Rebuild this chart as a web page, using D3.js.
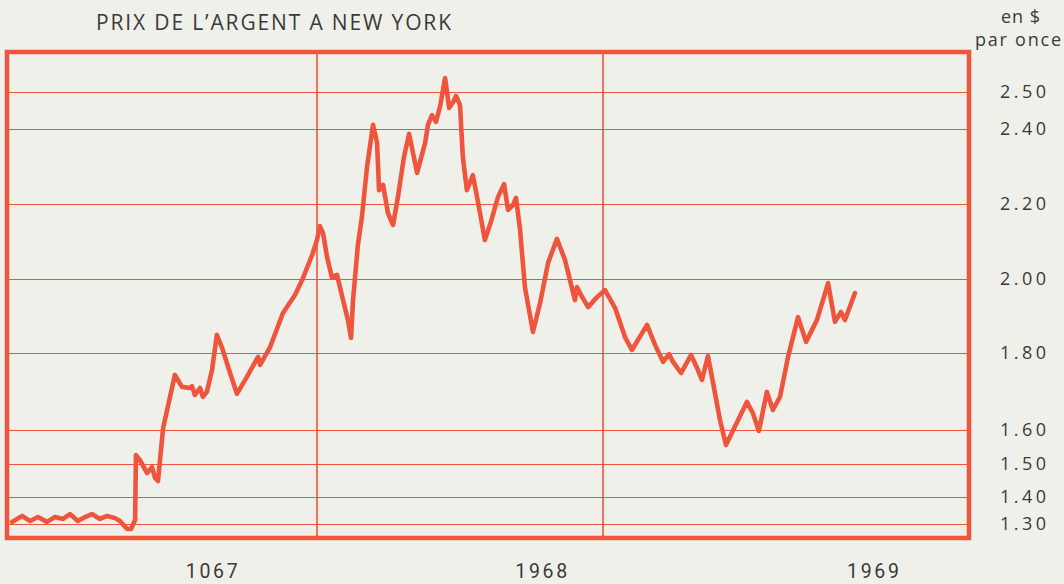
<!DOCTYPE html>
<html>
<head>
<meta charset="utf-8">
<script src="https://cdn.jsdelivr.net/npm/d3@7"></script>
<style>
  body { margin: 0; background: #f0f0eb; }
  svg { display: block; }
</style>
</head>
<body>
<div id="chart"></div>
<script>
// tick values on the right (the scale is hand drawn, not strictly linear)
const yTicks = [2.50, 2.40, 2.20, 2.00, 1.80, 1.60, 1.50, 1.40, 1.30];
const yearLines = [1968, 1969];
const yearLabels = ["1067", "1968", "1969"];
const yearLabelPos = [1967.632, 1968.784, 1969.944];

// date as fractional year, price in $ per ounce
const dates = [
  1966.934, 1966.969, 1966.997, 1967.024, 1967.056, 1967.084, 1967.112, 1967.136, 1967.164, 1967.189,
  1967.213, 1967.241, 1967.266, 1967.294, 1967.311, 1967.336, 1967.350, 1967.364, 1967.367, 1967.381,
  1967.406, 1967.423, 1967.434, 1967.444, 1967.462, 1967.476, 1967.503, 1967.528, 1967.556, 1967.563,
  1967.573, 1967.591, 1967.601, 1967.615, 1967.633, 1967.650, 1967.668, 1967.696, 1967.720, 1967.755,
  1967.794, 1967.801, 1967.836, 1967.881, 1967.923, 1967.948, 1967.983, 1968.000, 1968.010, 1968.021,
  1968.035, 1968.052, 1968.070, 1968.091, 1968.108, 1968.119, 1968.126, 1968.143, 1968.157, 1968.175,
  1968.196, 1968.210, 1968.217, 1968.231, 1968.248, 1968.266, 1968.283, 1968.304, 1968.322, 1968.350,
  1968.378, 1968.388, 1968.402, 1968.416, 1968.430, 1968.448, 1968.462, 1968.476, 1968.486, 1968.500,
  1968.510, 1968.524, 1968.545, 1968.563, 1968.587, 1968.608, 1968.633, 1968.654, 1968.668, 1968.685,
  1968.696, 1968.710, 1968.727, 1968.755, 1968.780, 1968.808, 1968.839, 1968.867, 1968.902, 1968.909,
  1968.923, 1968.948, 1968.979, 1969.007, 1969.042, 1969.077, 1969.101, 1969.154, 1969.182, 1969.210,
  1969.231, 1969.245, 1969.273, 1969.308, 1969.329, 1969.346, 1969.367, 1969.385, 1969.409, 1969.430,
  1969.469, 1969.503, 1969.524, 1969.545, 1969.573, 1969.594, 1969.619, 1969.647, 1969.682, 1969.710,
  1969.748, 1969.787, 1969.811, 1969.832, 1969.846, 1969.881
];
const prices = [
  1.306, 1.328, 1.309, 1.324, 1.306, 1.324, 1.317, 1.335, 1.309, 1.324,
  1.335, 1.317, 1.328, 1.320, 1.309, 1.280, 1.280, 1.313, 1.525, 1.510,
  1.471, 1.489, 1.456, 1.447, 1.605, 1.652, 1.743, 1.712, 1.709, 1.714,
  1.691, 1.709, 1.686, 1.699, 1.756, 1.849, 1.814, 1.748, 1.694, 1.738,
  1.790, 1.769, 1.816, 1.908, 1.957, 1.997, 2.064, 2.104, 2.141, 2.123,
  2.059, 2.005, 2.011, 1.943, 1.889, 1.841, 1.943, 2.091, 2.165, 2.299,
  2.411, 2.363, 2.237, 2.251, 2.176, 2.144, 2.219, 2.325, 2.387, 2.283,
  2.363, 2.411, 2.437, 2.419, 2.459, 2.536, 2.456, 2.472, 2.488, 2.464,
  2.325, 2.237, 2.277, 2.205, 2.104, 2.152, 2.219, 2.253, 2.184, 2.197,
  2.216, 2.131, 1.978, 1.857, 1.935, 2.043, 2.107, 2.051, 1.943, 1.978,
  1.957, 1.924, 1.951, 1.970, 1.922, 1.843, 1.808, 1.876, 1.822, 1.777,
  1.797, 1.777, 1.748, 1.795, 1.761, 1.730, 1.792, 1.722, 1.626, 1.555,
  1.621, 1.673, 1.644, 1.597, 1.699, 1.652, 1.686, 1.790, 1.897, 1.830,
  1.889, 1.989, 1.884, 1.911, 1.889, 1.962
];

const red = "#ef553d";
const ink = "#3a3a38";
const width = 1064, height = 584;
const frame = { left: 7, right: 969, top: 52, bottom: 538 };

const svg = d3.select("#chart").append("svg")
  .attr("width", width)
  .attr("height", height);

svg.append("rect")
  .attr("width", width).attr("height", height)
  .attr("fill", "#f0f0eb");

const x = d3.scaleLinear()
  .domain([1968, 1969])
  .range([317, 603]);

const y = d3.scaleLinear()
  .domain(yTicks)
  .range([91.5, 129, 204, 279, 353, 430, 463.5, 496.5, 523.5]);

// horizontal rules
svg.append("g")
  .selectAll("line")
  .data(yTicks)
  .join("line")
  .attr("x1", frame.left).attr("x2", frame.right)
  .attr("y1", d => Math.round(y(d)) + 0.5)
  .attr("y2", d => Math.round(y(d)) + 0.5)
  .attr("stroke", red)
  .attr("stroke-width", 1);

// year separators
svg.append("g")
  .selectAll("line")
  .data(yearLines)
  .join("line")
  .attr("x1", d => x(d)).attr("x2", d => x(d))
  .attr("y1", frame.top).attr("y2", frame.bottom)
  .attr("stroke", red)
  .attr("stroke-width", 1.6);

svg.append("rect")
  .attr("x", frame.left).attr("y", frame.top)
  .attr("width", frame.right - frame.left)
  .attr("height", frame.bottom - frame.top)
  .attr("fill", "none")
  .attr("stroke", red)
  .attr("stroke-width", 4.5);

const series = dates.map((d, i) => ({ t: d, v: prices[i] }));

svg.append("path")
  .datum(series)
  .attr("fill", "none")
  .attr("stroke", red)
  .attr("stroke-width", 4.6)
  .attr("stroke-linejoin", "round")
  .attr("stroke-linecap", "round")
  .attr("d", d3.line().x(d => x(d.t)).y(d => y(d.v)));

// right axis labels
svg.append("g")
  .selectAll("text")
  .data(yTicks)
  .join("text")
  .attr("x", 1000)
  .attr("y", d => y(d) + 1.5)
  .attr("dominant-baseline", "middle")
  .attr("font-family", "Open Sans, sans-serif")
  .attr("font-size", 18)
  .attr("textLength", 46)
  .attr("lengthAdjust", "spacing")
  .attr("fill", ink)
  .text(d => d.toFixed(2));

svg.append("text")
  .attr("x", 1001).attr("y", 23)
  .attr("font-family", "Open Sans, sans-serif")
  .attr("font-size", 18)
  .attr("textLength", 39)
  .attr("lengthAdjust", "spacing")
  .attr("fill", ink)
  .text("en $");

svg.append("text")
  .attr("x", 975).attr("y", 46)
  .attr("font-family", "Open Sans, sans-serif")
  .attr("font-size", 18)
  .attr("textLength", 86)
  .attr("lengthAdjust", "spacing")
  .attr("fill", ink)
  .text("par once");

svg.append("text")
  .attr("x", 96).attr("y", 30)
  .attr("font-family", "Open Sans, sans-serif")
  .attr("font-size", 21)
  .attr("textLength", 355)
  .attr("lengthAdjust", "spacing")
  .attr("fill", ink)
  .text("PRIX DE L\u2019ARGENT A NEW YORK");

// year labels under the frame
svg.append("g")
  .selectAll("text")
  .data(yearLabels)
  .join("text")
  .attr("x", (d, i) => x(yearLabelPos[i]) - 26)
  .attr("y", 578)
  .attr("font-family", "Roboto, sans-serif")
  .attr("font-size", 19.5)
  .attr("textLength", 52)
  .attr("lengthAdjust", "spacing")
  .attr("fill", ink)
  .text(d => d);
</script>
</body>
</html>
